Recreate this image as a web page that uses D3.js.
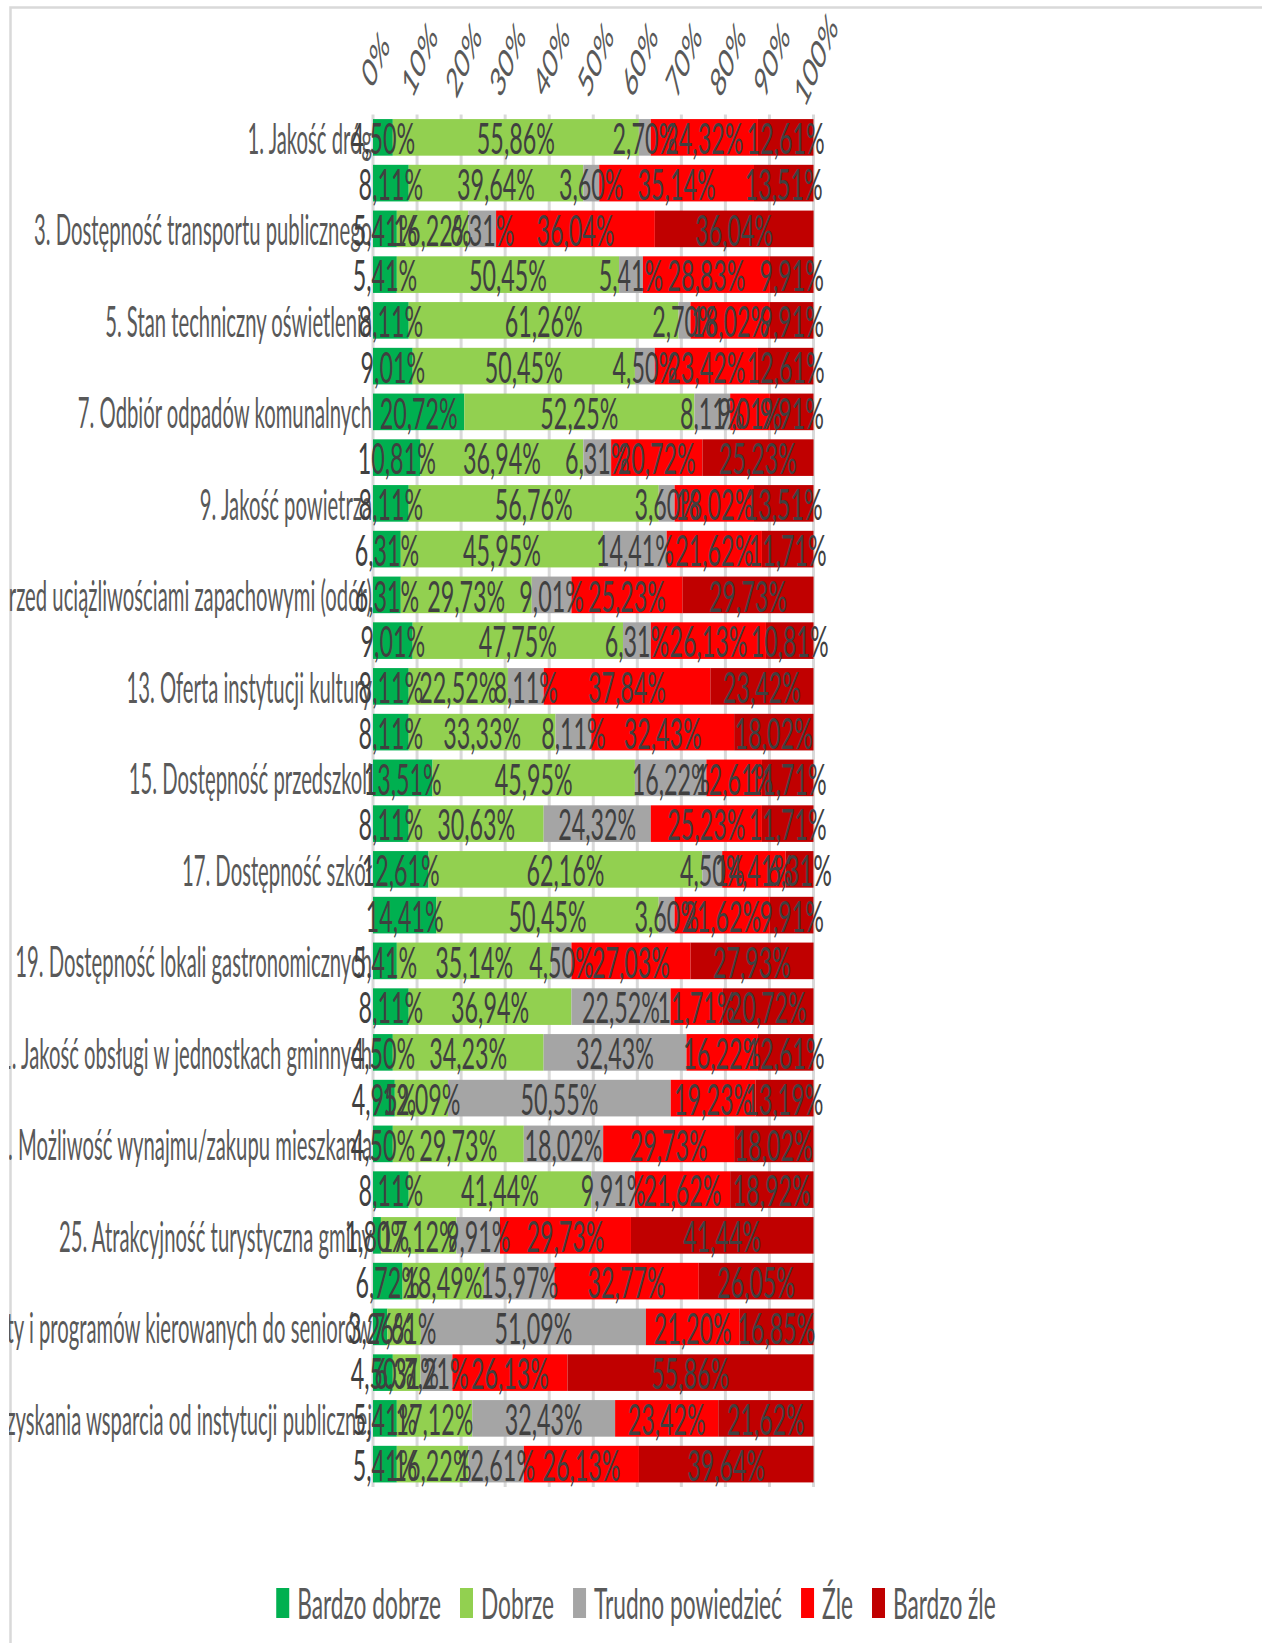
<!DOCTYPE html>
<html><head><meta charset="utf-8">
<script src="https://cdn.jsdelivr.net/npm/d3@7"></script>
<style>
html,body{margin:0;padding:0;background:#fff;}
svg{display:block;}
text{font-family:"Lato","Open Sans",sans-serif;font-weight:400;}
</style></head>
<body>
<svg id="chart" width="1262" height="1643"></svg>
<script>
// ---------- DATA ----------
const rowIds = d3.range(1, 31).map(String);
const rowLabels = [
 "1. Jakość dróg", "", "3. Dostępność transportu publicznego", "",
 "5. Stan techniczny oświetlenia", "", "7. Odbiór odpadów komunalnych", "",
 "9. Jakość powietrza", "", "11. Ochrona przed uciążliwościami zapachowymi (odór)", "",
 "13. Oferta instytucji kultury", "", "15. Dostępność przedszkoli", "",
 "17. Dostępność szkół", "", "19. Dostępność lokali gastronomicznych", "",
 "21. Jakość obsługi w jednostkach gminnych", "", "23. Możliwość wynajmu/zakupu mieszkania", "",
 "25. Atrakcyjność turystyczna gminy", "", "27. Dostępność oferty i programów kierowanych do seniorów", "",
 "29. Możliwość uzyskania wsparcia od instytucji publicznej", ""
];
const seriesNames = ["Bardzo dobrze", "Dobrze", "Trudno powiedzieć", "Źle", "Bardzo źle"];
const bardzoDobrze = [4.50, 8.11, 5.41, 5.41, 8.11, 9.01, 20.72, 10.81, 8.11, 6.31, 6.31, 9.01, 8.11, 8.11, 13.51, 8.11, 12.61, 14.41, 5.41, 8.11, 4.50, 4.95, 4.50, 8.11, 1.80, 6.72, 3.26, 4.50, 5.41, 5.41];
const dobrze = [55.86, 39.64, 16.22, 50.45, 61.26, 50.45, 52.25, 36.94, 56.76, 45.95, 29.73, 47.75, 22.52, 33.33, 45.95, 30.63, 62.16, 50.45, 35.14, 36.94, 34.23, 12.09, 29.73, 41.44, 17.12, 18.49, 7.61, 6.31, 17.12, 16.22];
const trudno = [2.70, 3.60, 6.31, 5.41, 2.70, 4.50, 8.11, 6.31, 3.60, 14.41, 9.01, 6.31, 8.11, 8.11, 16.22, 24.32, 4.50, 3.60, 4.50, 22.52, 32.43, 50.55, 18.02, 9.91, 9.91, 15.97, 51.09, 7.21, 32.43, 12.61];
const zle = [24.32, 35.14, 36.04, 28.83, 18.02, 23.42, 9.01, 20.72, 18.02, 21.62, 25.23, 26.13, 37.84, 32.43, 12.61, 25.23, 14.41, 21.62, 27.03, 11.71, 16.22, 19.23, 29.73, 21.62, 29.73, 32.77, 21.20, 26.13, 23.42, 26.13];
const bardzoZle = [12.61, 13.51, 36.04, 9.91, 9.91, 12.61, 9.91, 25.23, 13.51, 11.71, 29.73, 10.81, 23.42, 18.02, 11.71, 11.71, 6.31, 9.91, 27.93, 20.72, 12.61, 13.19, 18.02, 18.92, 41.44, 26.05, 16.85, 55.86, 21.62, 39.64];
const tickValues = [0, 10, 20, 30, 40, 50, 60, 70, 80, 90, 100];
const tickLabels = ["0%", "10%", "20%", "30%", "40%", "50%", "60%", "70%", "80%", "90%", "100%"];
const colors = ["#00b050", "#92d050", "#a5a5a5", "#ff0000", "#c00000"];

// ---------- SETUP ----------
const svg = d3.select("#chart");
const W = 1262, H = 1643;
const X0 = 373, X1 = 813.5, Y0 = 114.5, Y1 = 1487;
const FS = 42, FS_AX = 41;

// frame
svg.append("rect").attr("x", 10.5).attr("y", 7.5).attr("width", W + 20).attr("height", H + 20)
  .attr("fill", "#fff").attr("stroke", "#d9d9d9").attr("stroke-width", 2.5);

function measure(str, fs) {
  const t = svg.append("text").attr("font-size", fs).text(str);
  const w = t.node().getComputedTextLength();
  t.remove();
  return w;
}
const sLabel = 338 / measure("3. Dostępność transportu publicznego", FS);
const sData = 78 / measure("55,86%", FS);
const sLeg = 188 / measure("Trudno powiedzieć", FS);

const x = d3.scaleLinear().domain([0, 100]).range([X0, X1]);
const y = d3.scaleBand().domain(rowIds).range([Y0, Y1]).paddingInner(0.2).paddingOuter(0.1);

const rows = rowIds.map((id, i) => ({
  id, label: rowLabels[i],
  vals: [bardzoDobrze[i], dobrze[i], trudno[i], zle[i], bardzoZle[i]]
}));
const stack = d3.stack().keys([0, 1, 2, 3, 4]).value((d, k) => d.vals[k]);
const series = stack(rows);

// gridlines
svg.append("g").selectAll("line").data(tickValues).join("line")
  .attr("x1", d => x(d)).attr("x2", d => x(d))
  .attr("y1", Y0).attr("y2", Y1)
  .attr("stroke", "#d9d9d9").attr("stroke-width", 3);

// top axis labels
svg.append("g").selectAll("text").data(tickValues).join("text")
  .attr("transform", d => `translate(${x(d) + 2},59) scale(${sData * 0.95},1) rotate(-51)`)
  .attr("text-anchor", "middle").attr("dominant-baseline", "central")
  .attr("font-size", FS_AX).attr("fill", "#595959")
  .text((d, i) => tickLabels[i]);

// bars
svg.append("g").selectAll("g").data(series).join("g")
  .attr("fill", (d, i) => colors[i])
  .selectAll("rect").data(d => d).join("rect")
  .attr("x", d => x(d[0])).attr("width", d => x(d[1]) - x(d[0]))
  .attr("y", d => y(d.data.id)).attr("height", y.bandwidth());

// category labels (clipped at chart area edge)
svg.append("clipPath").attr("id", "clipL").append("rect")
  .attr("x", 9).attr("y", 0).attr("width", W).attr("height", H);
svg.append("g").attr("clip-path", "url(#clipL)")
  .selectAll("text").data(rows.filter(r => r.label)).join("text")
  .attr("transform", d => `translate(${X0 - 1},${y(d.id) + y.bandwidth() / 2}) scale(${sLabel},1)`)
  .attr("text-anchor", "end").attr("dominant-baseline", "central")
  .attr("font-size", FS).attr("fill", "#595959")
  .text(d => d.label);

// data labels
const fmt = v => d3.format(".2f")(v).replace(".", ",") + "%";
svg.append("g").selectAll("g").data(series).join("g")
  .selectAll("text").data(d => d).join("text")
  .attr("transform", d => `translate(${(x(d[0]) + x(d[1])) / 2},${y(d.data.id) + y.bandwidth() / 2}) scale(${sData},1)`)
  .attr("text-anchor", "middle").attr("dominant-baseline", "central")
  .attr("font-size", FS).attr("fill", "#404040")
  .text(d => fmt(d[1] - d[0]));

// legend
const legY = 1603;
const items = seriesNames.map((n, i) => ({ n, c: colors[i], w: measure(n, FS) * sLeg }));
const sqW = 13, sqH = 30, gapIn = 8, gapOut = 19;
const totalW = d3.sum(items, d => sqW + gapIn + d.w) + gapOut * (items.length - 1);
let cx = 636 - totalW / 2;
const leg = svg.append("g");
items.forEach(it => {
  leg.append("rect").attr("x", cx).attr("y", legY - sqH / 2).attr("width", sqW).attr("height", sqH).attr("fill", it.c);
  leg.append("text").attr("transform", `translate(${cx + sqW + gapIn},${legY}) scale(${sLeg},1)`)
    .attr("dominant-baseline", "central").attr("font-size", FS).attr("fill", "#595959").text(it.n);
  cx += sqW + gapIn + it.w + gapOut;
});
</script>
</body></html>
